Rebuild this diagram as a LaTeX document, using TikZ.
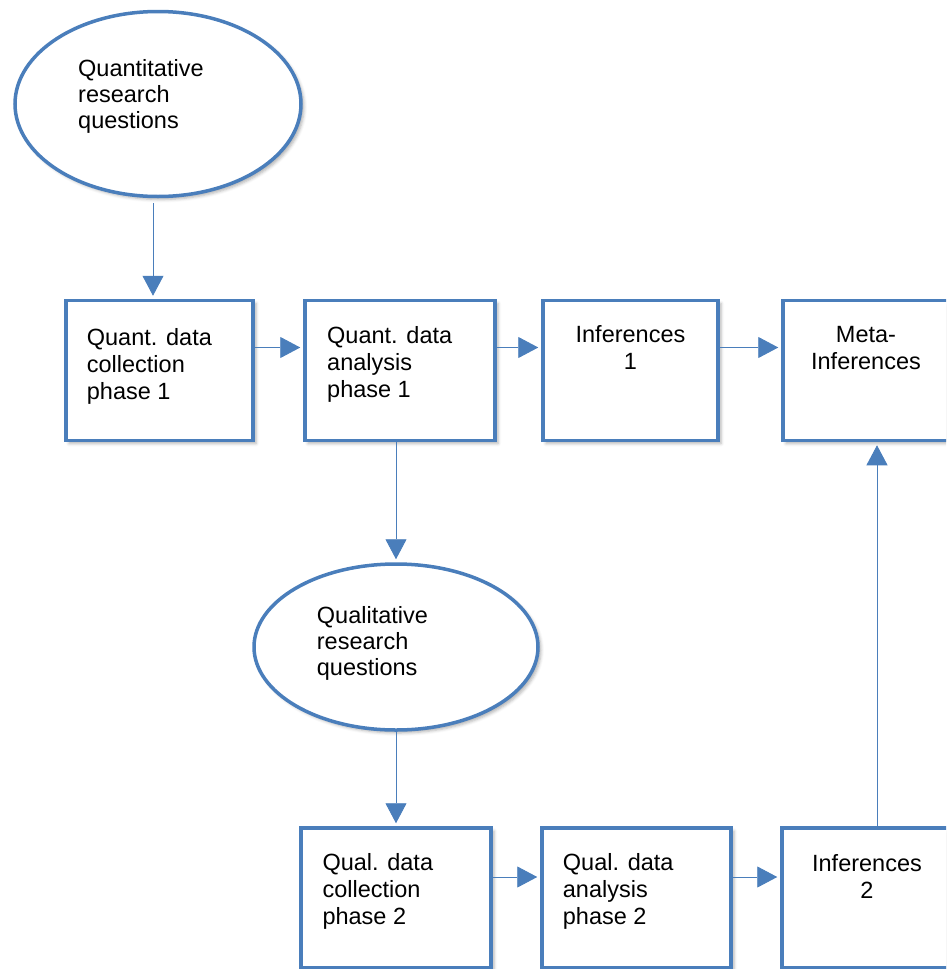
\documentclass[tikz,border=0pt]{standalone}
\usepackage{fontspec}
\setmainfont{Liberation Sans}
\usetikzlibrary{arrows.meta,shapes.geometric,shadows.blur}
\definecolor{boxblue}{RGB}{74,126,187}

\begin{document}
\begin{tikzpicture}[x=1pt,y=-1pt,
  box/.style={draw=boxblue,line width=3.5pt,fill=white,inner sep=0pt,
    blur shadow={shadow xshift=3pt,shadow yshift=-3pt,shadow blur radius=3pt,shadow opacity=30}},
  oval/.style={box,ellipse},
  txt/.style={inner sep=0pt,font=\fontsize{23.5pt}{27pt}\selectfont},
  link/.style={draw=boxblue,line width=0.9pt,-{Triangle[length=20pt,width=21pt]},shorten >=3pt}]
  \useasboundingbox (0,0) rectangle (946,969);
  \clip (0,0) rectangle (946,969);
  % questions
  \node[oval,minimum width=286pt,minimum height=185pt] (qnrq) at (158,104) {};
  \node[oval,minimum width=284pt,minimum height=166pt] (qlrq) at (396,647) {};
  % phase 1 row
  \node[box,minimum width=187pt,minimum height=140pt] (qncol) at (159.5,370.5) {};
  \node[box,minimum width=190pt,minimum height=140pt] (qnana) at (400,370.5) {};
  \node[box,minimum width=175pt,minimum height=140pt] (inf1) at (630.5,370.5) {};
  \node[box,minimum width=188pt,minimum height=140pt] (meta) at (877,370.5) {};
  % phase 2 row
  \node[box,minimum width=190pt,minimum height=140pt] (qlcol) at (396,898) {};
  \node[box,minimum width=189pt,minimum height=140pt] (qlana) at (636.5,898) {};
  \node[box,minimum width=190pt,minimum height=140pt] (inf2) at (877,898) {};
  % texts
  \node[txt,align=left,anchor=north west,font=\fontsize{23.5pt}{26pt}\selectfont] (tqnrq) at (78,59) {Quantitative\\research\\questions};
  \node[txt,align=left,anchor=north west,font=\fontsize{23.5pt}{26pt}\selectfont] (tqlrq) at (316.7,606.5) {Qualitative\\research\\questions};
  \node[txt,align=left,anchor=north west] (tqncol) at (86.7,328.2) {Quant. data\\collection\\phase 1};
  \node[txt,align=left,anchor=north west] (tqnana) at (327,326.2) {Quant. data\\analysis\\phase 1};
  \node[txt,align=center,anchor=north] (tinf1) at (630.5,325.5) {Inferences\\1};
  \node[txt,align=center,anchor=north] (tmeta) at (866,326.2) {Meta-\\Inferences};
  \node[txt,align=left,anchor=north west] (tqlcol) at (322.3,853.2) {Qual. data\\collection\\phase 2};
  \node[txt,align=left,anchor=north west] (tqlana) at (562.7,853.2) {Qual. data\\analysis\\phase 2};
  \node[txt,align=center,anchor=north] (tinf2) at (867,854.2) {Inferences\\2};
  % connectors
  \draw[link,shorten <=5pt] ([xshift=-5pt]qnrq.south) -- ([xshift=-5pt]qnrq.south |- qncol.north);
  \draw[link] ([yshift=23pt]qncol.east) -- ([yshift=23pt]qnana.west);
  \draw[link] ([yshift=23pt]qnana.east) -- ([yshift=23pt]inf1.west);
  \draw[link] ([yshift=23pt]inf1.east) -- ([yshift=23pt]meta.west);
  \draw[link] (qlrq.north |- qnana.south) -- (qlrq.north);
  \draw[link] (qlrq.south) -- (qlrq.south |- qlcol.north);
  \draw[link] ([yshift=21pt]qlcol.east) -- ([yshift=21pt]qlana.west);
  \draw[link] ([yshift=21pt]qlana.east) -- ([yshift=21pt]inf2.west);
  \draw[link] (inf2.north) -- (meta.south);
\end{tikzpicture}
\end{document}
